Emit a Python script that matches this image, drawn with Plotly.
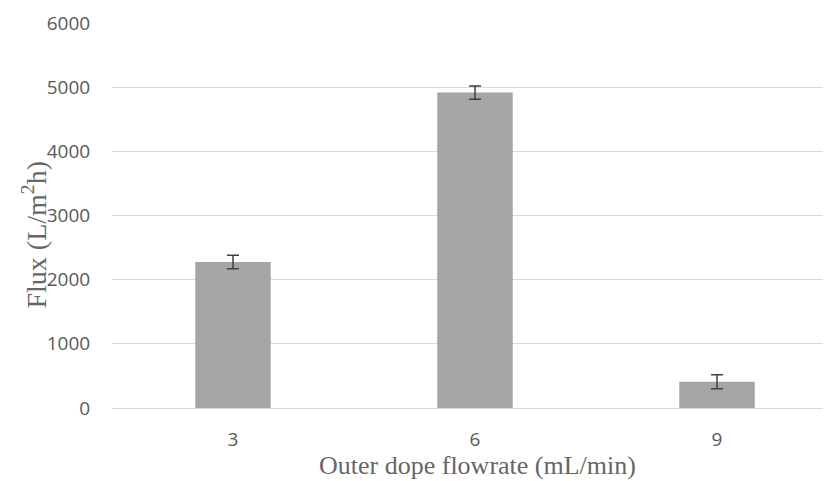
import plotly.graph_objects as go

categories = ["3", "6", "9"]
flux = [2275, 4915, 410]
flux_err = [105, 105, 110]
y_ticks = [0, 1000, 2000, 3000, 4000, 5000, 6000]

fig = go.Figure()
fig.add_trace(go.Bar(
    x=categories, y=flux,
    marker=dict(color="#a5a5a5", line=dict(width=0)),
    width=0.312,
    error_y=dict(type="data", array=flux_err, visible=True,
                 color="#404040", thickness=1.5, width=6),
))

title_font = dict(family="Liberation Serif", size=26, color="#666666")

fig.update_layout(
    width=823, height=473,
    margin=dict(l=104, r=0, t=15, b=73, pad=0),
    paper_bgcolor="white", plot_bgcolor="white",
    showlegend=False,
    xaxis=dict(
        type="category", range=[-0.5, 2.471],
        showgrid=False, showline=True, linecolor="#d9d9d9", linewidth=1,
        tickfont=dict(family="Open Sans", size=19, color="#595959"),
        ticks="outside", tickcolor="rgba(0,0,0,0)", ticklen=14,
    ),
    yaxis=dict(
        range=[0, 6000], tickvals=y_ticks,
        showgrid=True, gridcolor="#d9d9d9", gridwidth=1,
        zeroline=False,
        tickfont=dict(family="Open Sans", size=19, color="#595959"),
        ticks="outside", tickcolor="rgba(0,0,0,0)", ticklen=17,
    ),
    annotations=[
        dict(text="Outer dope flowrate (mL/min)", xref="paper", yref="paper",
             x=0.508, y=-0.15, xanchor="center", yanchor="middle",
             showarrow=False, font=title_font),
        dict(text="Flux (L/m<sup>2</sup>h)", xref="paper", yref="paper",
             x=-0.108, y=0.449, xanchor="center", yanchor="middle",
             textangle=-90, showarrow=False,
             font=dict(family="Liberation Serif", size=28, color="#666666")),
    ],
)

fig.write_html("out.html")
